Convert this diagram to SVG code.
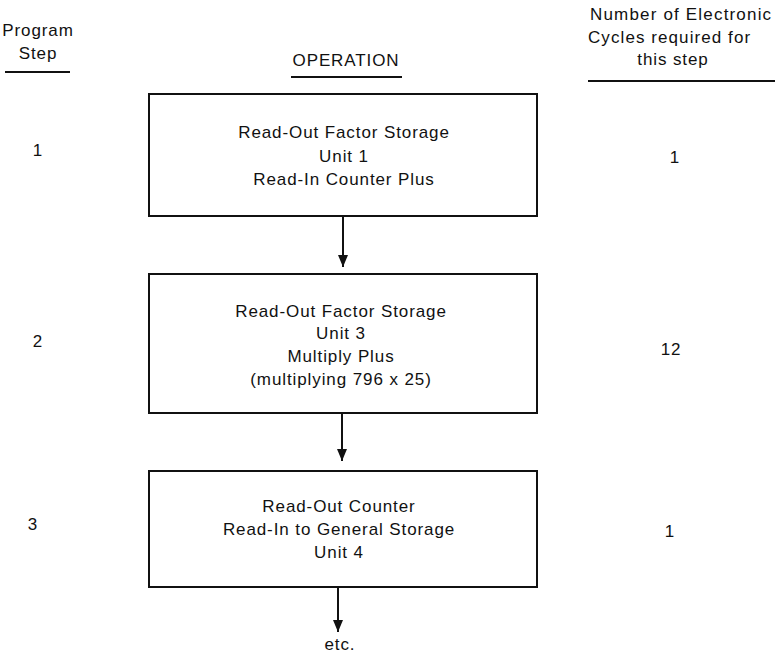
<svg xmlns="http://www.w3.org/2000/svg" width="777" height="654" viewBox="0 0 777 654">
  <defs>
    <marker id="arrow" viewBox="0 0 12 10" refX="12" refY="5" markerWidth="12" markerHeight="10" markerUnits="userSpaceOnUse" orient="auto">
      <path d="M0,0 L12,5 L0,10 Z" fill="#111"/>
    </marker>
    <style>
      text { font-family: "Liberation Sans", Arial, sans-serif; font-size: 17px; fill: #111; letter-spacing: 0.9px; }
      .c { text-anchor: middle; }
      .box { fill: #fff; stroke: #111; stroke-width: 2; }
      .rule { stroke: #111; stroke-width: 2; }
      .conn { stroke: #111; stroke-width: 2; fill: none; marker-end: url(#arrow); }
    </style>
  </defs>
  <rect width="777" height="654" fill="#fff"/>

  <!-- column headings -->
  <g id="head-step">
    <text x="38" y="36" class="c">Program</text>
    <text x="38" y="59" class="c">Step</text>
    <line class="rule" x1="5" y1="72" x2="70" y2="72"/>
  </g>
  <g id="head-operation">
    <text x="346" y="66" class="c">OPERATION</text>
    <line class="rule" x1="291" y1="77" x2="402" y2="77"/>
  </g>
  <g id="head-cycles">
    <text x="590" y="20" textLength="182" lengthAdjust="spacing">Number of Electronic</text>
    <text x="588" y="43" textLength="163" lengthAdjust="spacing">Cycles required for</text>
    <text x="673" y="65" class="c">this step</text>
    <line class="rule" x1="588" y1="81" x2="775" y2="81"/>
  </g>

  <!-- step 1 -->
  <g id="step1">
    <text x="38" y="156" class="c">1</text>
    <rect class="box" x="149" y="94" width="388" height="122"/>
    <text x="344" y="138" class="c">Read-Out Factor Storage</text>
    <text x="344" y="162" class="c">Unit 1</text>
    <text x="344" y="185" class="c">Read-In Counter Plus</text>
    <text x="675" y="163" class="c">1</text>
  </g>

  <!-- step 2 -->
  <g id="step2">
    <text x="38" y="347" class="c">2</text>
    <rect class="box" x="149" y="274" width="388" height="139"/>
    <text x="341" y="317" class="c">Read-Out Factor Storage</text>
    <text x="341" y="339" class="c">Unit 3</text>
    <text x="341" y="362" class="c">Multiply Plus</text>
    <text x="341" y="385" class="c">(multiplying 796 x 25)</text>
    <text x="671" y="355" class="c">12</text>
  </g>

  <!-- step 3 -->
  <g id="step3">
    <text x="33" y="530" class="c">3</text>
    <rect class="box" x="149" y="471" width="388" height="116"/>
    <text x="339" y="512" class="c">Read-Out Counter</text>
    <text x="339" y="535" class="c">Read-In to General Storage</text>
    <text x="339" y="558" class="c">Unit 4</text>
    <text x="670" y="537" class="c">1</text>
  </g>

  <g id="etc">
    <text x="340" y="650" class="c">etc.</text>
  </g>

  <!-- connectors -->
  <g id="connectors">
    <line class="conn" x1="343" y1="217" x2="343" y2="267"/>
    <line class="conn" x1="342" y1="414" x2="342" y2="461"/>
    <line class="conn" x1="338" y1="588" x2="338" y2="632"/>
  </g>
</svg>
